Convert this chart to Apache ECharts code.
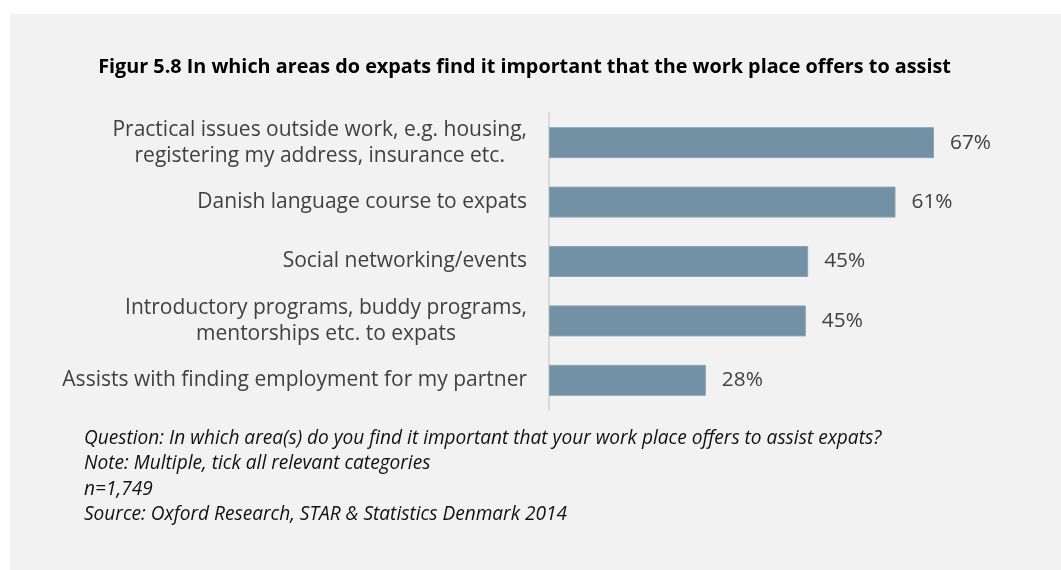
<!DOCTYPE html>
<html>
<head>
<meta charset="utf-8">
<script src="https://cdn.jsdelivr.net/npm/echarts@6/dist/echarts.min.js"></script>
<style>
  html, body { margin: 0; padding: 0; background: #ffffff; }
  #chart { position: absolute; left: 0; top: 0; width: 1061px; height: 570px; }
</style>
</head>
<body>
<div id="chart"></div>
<script>
const titleText = 'Figur 5.8 In which areas do expats find it important that the work place offers to assist';
const categories = [
  'Practical issues outside work, e.g. housing,\nregistering my address, insurance etc.',
  'Danish language course to expats',
  'Social networking/events',
  'Introductory programs, buddy programs,\nmentorships etc. to expats',
  'Assists with finding employment for my partner'
];
const values = [67, 60.3, 45.1, 44.7, 27.3];
const valueLabels = ['67%', '61%', '45%', '45%', '28%'];
const notes = [
  'Question: In which area(s) do you find it important that your work place offers to assist expats?',
  'Note: Multiple, tick all relevant categories',
  'n=1,749',
  'Source: Oxford Research, STAR & Statistics Denmark 2014'
];

const FAMILY = '"Open Sans"';
const FONT = '"Open Sans", Lato, sans-serif';
const ctx = document.createElement('canvas').getContext('2d');
function fitSize(text, style, target) {
  ctx.font = style + ' 100px ' + FAMILY;
  const w = ctx.measureText(text).width;
  return Math.round(100 * target / w * 10) / 10;
}
const labelSize = fitSize(categories[4], 'normal', 465);
const titleSize = fitSize(titleText, 'bold', 855);
const noteSize = fitSize(notes[0], 'italic', 796);
const valueSize = fitSize('67%', 'normal', 41);

const rich = {};
categories.forEach((c, i) => {
  rich['c' + i] = { align: 'center', fontSize: labelSize, fontFamily: FONT, color: '#404040', lineHeight: 26 };
});

const chart = echarts.init(document.getElementById('chart'));
chart.setOption({
  backgroundColor: '#ffffff',
  animation: false,
  graphic: [
    { type: 'rect', left: 10, top: 14, shape: { width: 1051, height: 556 }, style: { fill: '#f2f2f2' }, z: -10 },
    { type: 'text', x: 524.5, y: 67.5, style: { text: titleText, font: 'bold ' + titleSize + 'px ' + FONT, fill: '#000000', align: 'center', verticalAlign: 'middle' } }
  ].concat(notes.map((t, i) => ({
    type: 'text', x: 84, y: 438.5 + i * 25.3,
    style: { text: t, font: 'italic ' + noteSize + 'px ' + FONT, fill: '#111111', align: 'left', verticalAlign: 'middle' }
  }))),
  grid: { left: 549, top: 113, width: 459.7, height: 297, containLabel: false },
  xAxis: {
    type: 'value', min: 0, max: 80,
    show: false
  },
  yAxis: {
    type: 'category',
    data: categories,
    inverse: true,
    axisLine: { show: true, lineStyle: { color: '#d9d9d9', width: 2 } },
    axisTick: { show: false },
    axisLabel: {
      margin: 22,
      align: 'right',
      fontFamily: FONT, fontSize: labelSize, color: '#404040', lineHeight: 26,
      formatter: (v, idx) => v.split('\n').map(l => '{c' + idx + '|' + l + '}').join('\n'),
      rich: rich
    }
  },
  series: [{
    type: 'bar',
    data: values,
    barWidth: 31,
    itemStyle: { color: '#7391a4', borderColor: '#8aa3b4', borderWidth: 1 },
    label: {
      show: true, position: 'right', distance: 16,
      fontFamily: FONT, fontSize: valueSize, color: '#404040',
      formatter: p => valueLabels[p.dataIndex]
    }
  }]
});
</script>
</body>
</html>
